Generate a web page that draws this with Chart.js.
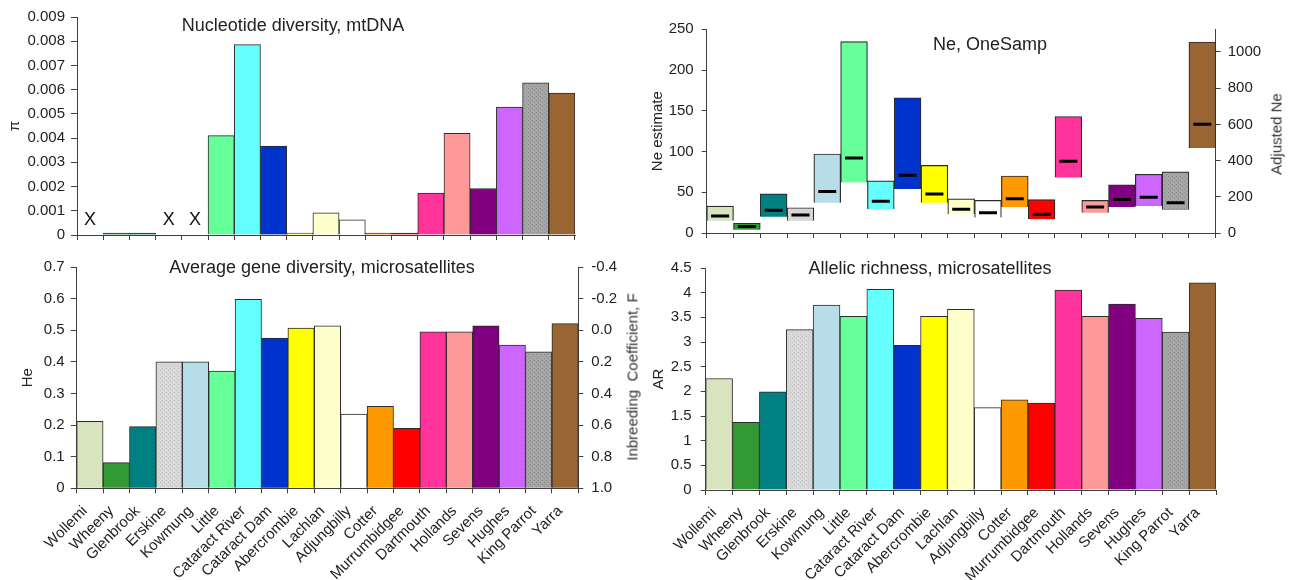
<!DOCTYPE html>
<html><head><meta charset="utf-8">
<script src="https://cdn.jsdelivr.net/npm/chart.js@4.4.1/dist/chart.umd.min.js"></script>
<style>
html,body{margin:0;padding:0;background:#fff;}
#wrap{position:relative;width:1291px;height:580px;overflow:hidden;background:#fff;}
canvas{position:absolute;}
.t{position:absolute;transform:translate(-50%,-50%);font:18px "Liberation Sans",Arial,sans-serif;color:#222;white-space:pre;}
.r{position:absolute;transform:translate(-50%,-50%) rotate(-90deg);font:normal 15px "Liberation Sans",Arial,sans-serif;color:#333;white-space:pre;}
</style></head><body>
<div id="wrap">
<canvas id="c1" width="640" height="250" style="left:0;top:0"></canvas>
<canvas id="c2" width="651" height="250" style="left:640px;top:0"></canvas>
<canvas id="c3" width="640" height="330" style="left:0;top:250px"></canvas>
<canvas id="c4" width="651" height="330" style="left:640px;top:250px"></canvas>
<div class="t" style="left:293px;top:25px">Nucleotide diversity, mtDNA</div>
<div class="t" style="left:990px;top:44px">Ne, OneSamp</div>
<div class="t" style="left:322px;top:267px">Average gene diversity, microsatellites</div>
<div class="t" style="left:930px;top:268px">Allelic richness, microsatellites</div>
<div class="r" style="left:1276px;top:134px">Adjusted Ne</div>
<div class="r" style="left:632px;top:377px">Inbreeding  Coefficient, F</div>
</div>
<script>
// ---- data ----
const categories = ['Wollemi','Wheeny','Glenbrook','Erskine','Kowmung','Little','Cataract River','Cataract Dam','Abercrombie','Lachlan','Adjungbilly','Cotter','Murrumbidgee','Dartmouth','Hollands','Sevens','Hughes','King Parrot','Yarra'];
const piValues = [null,0.00004,0.00004,null,null,0.0041,0.00786,0.00367,0.00004,0.00092,0.00063,0.00004,0.00004,0.00173,0.0042,0.00192,0.00528,0.00628,0.00586];
const mtdnaMissing = ['Wollemi','Erskine','Kowmung'];
const neLow  = [15,4,20,15,37,62,29,54,37,23,19,32,17,68,25,32,33,29,null];
const neHigh = [33,12,48,31,97,235,64,166,83,42,40,70,41,143,40,59,72,75,null];
const neMid  = [21,8,28,22,51,92,39,71,48,29,25,42,23,88,32,41,44,37,null];
const adjNeLow  = [null,null,null,null,null,null,null,null,null,null,null,null,null,null,null,null,null,null,470];
const adjNeHigh = [null,null,null,null,null,null,null,null,null,null,null,null,null,null,null,null,null,null,1055];
const adjNeMid  = [null,null,null,null,null,null,null,null,null,null,null,null,null,null,null,null,null,null,600];
const heValues = [0.212,0.081,0.195,0.400,0.400,0.371,0.598,0.475,0.507,0.514,0.235,0.259,0.190,0.495,0.495,0.514,0.453,0.432,0.521];
const arValues = [2.26,1.37,1.99,3.25,3.75,3.52,4.07,2.93,3.52,3.66,1.67,1.83,1.76,4.05,3.52,3.77,3.48,3.20,4.20];

// ---- styles ----
const FONT = '"Liberation Sans", Arial, sans-serif';
Chart.defaults.font.family = FONT;
Chart.defaults.color = '#222';
function dotPattern(base, dot){
  const c=document.createElement('canvas'); c.width=4; c.height=4;
  const g=c.getContext('2d'); g.fillStyle=base; g.fillRect(0,0,4,4);
  g.fillStyle=dot; g.fillRect(0,0,1,1); g.fillRect(2,2,1,1);
  return g.createPattern(c,'repeat');
}
const fills = ['#D7E4BD','#339933','#008080',dotPattern('#D9D9D9','#BDBDBD'),'#B7DEE8','#66FF99','#66FFFF','#0033CC','#FFFF00','#FFFFCC','#FFFFFF','#FF9900','#FF0000','#FF3399','#FF9999','#800080','#CC66FF',dotPattern('#A6A6A6','#8A8A8A'),'#996633'];
const AX = '#404040';
const tickFont = {size:15};
const common = {responsive:false, animation:false, plugins:{legend:{display:false}, tooltip:{enabled:false}}};
const plain = v => String(+(+v).toFixed(4));

function xAxis(showLabels, h){
  return {
    grid:{drawOnChartArea:false, drawTicks:true, tickLength:5, color:AX, offset:true},
    border:{display:true, color:AX},
    ticks: showLabels ? {autoSkip:false, minRotation:45, maxRotation:45, font:tickFont, padding:9, labelOffset:-5} : {display:false},
    afterFit: s => { s.height = h; }
  };
}
function yAxis(o){
  return Object.assign({
    display:true,
    grid:{drawOnChartArea:false, drawTicks:true, tickLength:o.tl||6, color:AX},
    border:{display:true, color:AX},
    afterFit: s => { s.width = o.w; }
  }, o.extra);
}
function barSet(data, axis, bw, minLen){
  return {type:'bar', data, yAxisID:axis, backgroundColor:fills, borderColor:'#2b2b2b', borderWidth:bw, categoryPercentage:1, barPercentage:1, grouped:false, order:1, minBarLength:minLen||0};
}
function midSet(data, axis){
  return {type:'line', data, yAxisID:axis, showLine:false, pointStyle:'line', pointRadius:9, pointHoverRadius:9, pointBorderWidth:3, pointBorderColor:'#000', borderColor:'#000', order:0};
}

const xMarks = {
  id:'xMarks',
  afterDatasetsDraw(chart){
    const {ctx, scales:{x,y}} = chart;
    ctx.save();
    ctx.font = '18px ' + FONT; ctx.fillStyle = '#111';
    ctx.textAlign='center'; ctx.textBaseline='middle';
    mtdnaMissing.forEach(n => {
      const i = categories.indexOf(n);
      ctx.fillText('X', x.getPixelForValue(i), y.getPixelForValue(0.00063));
    });
    ctx.restore();
  }
};

// ---- top-left: nucleotide diversity ----
new Chart(document.getElementById('c1'), {
  type:'bar',
  data:{labels:categories, datasets:[barSet(piValues,'y',1,2)]},
  options:Object.assign({}, common, {
    layout:{padding:{top:17, right:65, left:0, bottom:0}},
    scales:{
      x: xAxis(false, 14),
      y: yAxis({w:77, extra:{min:0, max:0.009,
        ticks:{stepSize:0.001, font:tickFont, padding:6, callback:v => Math.abs(v)<1e-12 ? '0' : v.toFixed(3)},
        title:{display:true, text:'π', font:{size:15}, padding:{top:6, bottom:0}}}})
    }
  }),
  plugins:[xMarks]
});

// ---- top-right: Ne OneSamp ----
const neRange = categories.map((_, i) => neLow[i] == null ? null : [neLow[i], neHigh[i]]);
const adjRange = categories.map((_, i) => adjNeLow[i] == null ? null : [adjNeLow[i], adjNeHigh[i]]);
new Chart(document.getElementById('c2'), {
  type:'bar',
  data:{labels:categories, datasets:[
    midSet(neMid,'y'), midSet(adjNeMid,'y2'),
    barSet(neRange,'y',1.2), barSet(adjRange,'y2',1.2)
  ]},
  options:Object.assign({}, common, {
    layout:{padding:{top:29.3, right:0, left:0, bottom:0}},
    scales:{
      x: xAxis(false, 13.3),
      y: yAxis({w:66.7, tl:5, extra:{position:'left', min:0, max:250,
        ticks:{stepSize:50, font:tickFont, padding:8, callback:plain},
        title:{display:true, text:'Ne estimate', font:{size:15}, padding:{top:9, bottom:0}}}}),
      y2: yAxis({w:75.3, tl:5, extra:{position:'right', min:0, max:1125,
        ticks:{stepSize:200, includeBounds:false, font:tickFont, padding:7, callback:plain}}})
    }
  })
});

// ---- bottom-left: He ----
new Chart(document.getElementById('c3'), {
  type:'bar',
  data:{labels:categories, datasets:[barSet(heValues,'y',1)]},
  options:Object.assign({}, common, {
    layout:{padding:{top:12.7, right:0, left:0, bottom:0}},
    scales:{
      x: xAxis(true, 91.7),
      y: yAxis({w:76.7, extra:{position:'left', min:0, max:0.7,
        ticks:{stepSize:0.1, font:tickFont, padding:6, callback:plain},
        title:{display:true, text:'He', font:{size:15}, padding:{top:19, bottom:0}}}}),
      y2: yAxis({w:61.7, tl:5, extra:{position:'right', reverse:true, min:-0.4, max:1.0,
        ticks:{stepSize:0.2, font:tickFont, padding:8, callback:v => (Math.abs(v)<1e-9 ? 0 : v).toFixed(1)}}})
    }
  })
});

// ---- bottom-right: AR ----
new Chart(document.getElementById('c4'), {
  type:'bar',
  data:{labels:categories, datasets:[barSet(arValues,'y',1)]},
  options:Object.assign({}, common, {
    layout:{padding:{top:12.7, right:75, left:0, bottom:0}},
    scales:{
      x: xAxis(true, 90),
      y: yAxis({w:65.7, tl:5, extra:{position:'left', min:0, max:4.5,
        ticks:{stepSize:0.5, font:tickFont, padding:9, callback:plain},
        title:{display:true, text:'AR', font:{size:15}, padding:{top:10, bottom:0}}}})
    }
  })
});
</script>
</body></html>
